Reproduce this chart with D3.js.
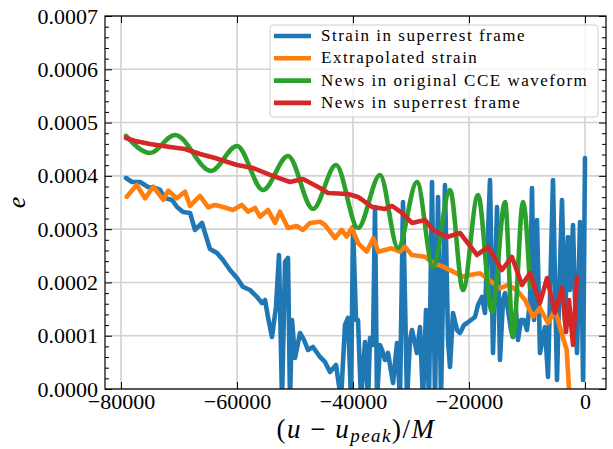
<!DOCTYPE html>
<html lang="en">
<head>
    <meta charset="UTF-8">
    <title>Eccentricity e vs (u - u_peak)/M</title>
    <script src="https://d3js.org/d3.v7.min.js"></script>
    <style>
        body { margin: 0; background: #fff; }
        text { font-family: "Liberation Serif", "Times New Roman", serif; fill: #000; }
    </style>
</head>
<body>
    <svg width="613" height="449"></svg>

    <script>
        // Values. x in units of M, e values in units of 1e-4.
        const xTicks = [-80000, -60000, -40000, -20000, 0];
        const xTickLabels = ["\u221280000", "\u221260000", "\u221240000", "\u221220000", "0"];
        const yTicks = [0, 1, 2, 3, 4, 5, 6, 7];
        const yTickLabels = ["0.0000", "0.0001", "0.0002", "0.0003", "0.0004", "0.0005", "0.0006", "0.0007"];
        const seriesNames = ["Strain in superrest frame", "Extrapolated strain",
                             "News in original CCE waveform", "News in superrest frame"];
        const seriesColors = ["#1f77b4", "#ff7f0e", "#2ca02c", "#d62728"];

        const blueX = [-79140,-78100,-76720,-75340,-74140,-73280,-72410,-71210,-70340,-69310,-68100,-67240,-66030,-65520,-64660,
            -63450,-62410,-61210,-60000,-58970,-57760,-56550,-55690,-55170,-54660,-53970,-53280,-52760,-52240,-51720,-51210,
            -50860,-50520,-50000,-49140,-48450,-47760,-46900,-45690,-44830,-43970,-42930,-42070,-41380,-40860,
            -40340,-40000,-39480,-39140,-38620,-37930,-37410,-37070,-36550,-36210,-35860,-35340,-35000,-34480,-33970,-33100,
            -32410,-31900,-31380,-30690,-30170,-29830,-28970,-28450,-27930,-27410,-26900,-26380,-25860,-25340,-24830,-24140,
            -23620,-23280,-22760,-22070,-21550,-20860,-20340,-19660,-18970,-18450,-17760,-17240,-16380,-15860,-15170,-14660,
            -14140,-13790,-13280,-12760,-12410,-11900,-11550,-11030,-10520,-10000,-9480,-9140,-8790,-8280,-7760,-6900,-6380,
            -5520,-4830,-4480,-3970,-3450,-2930,-2590,-2070,-1720,-1380,-860,-520,-340,0];
        const blueE = [3.960,3.885,3.885,3.792,3.773,3.735,3.585,3.548,3.416,3.322,3.304,2.984,3.116,2.928,2.628,
            2.553,2.421,2.234,2.083,1.915,1.858,1.727,1.614,1.670,1.351,0.976,1.539,2.515,-0.2,2.384,2.459,
            -0.2,1.295,0.582,1.051,0.920,0.732,0.788,0.601,0.507,0.319,0.450,-0.2,1.201,1.333,
            -0.2,3.041,1.295,1.295,-0.2,0.882,-0.2,0.957,0.826,3.416,-0.2,0.826,0.732,0.544,0.676,0.113,
            0.863,-0.2,3.510,-0.2,0.920,1.107,0.676,1.164,-0.2,1.483,-0.2,3.885,-0.2,3.604,-0.2,3.829,
            0.920,0.413,1.427,1.107,1.051,1.201,1.239,1.295,1.351,1.577,1.727,1.427,3.923,0.676,3.416,0.544,
            1.670,1.802,1.483,1.107,0.976,1.483,0.920,1.295,1.295,1.107,1.670,3.773,1.295,3.172,0.676,1.164,0.225,
            3.923,0.169,1.670,3.548,1.295,2.853,1.858,3.078,1.670,0.676,3.135,1.670,0.169,4.336];

        const orangeX = [-79020,-77290,-75860,-74430,-72710,-71840,-70400,-68970,-68100,-66380,-64950,-63790,-62410,-60690,
            -59190,-58100,-56900,-56030,-54660,-53450,-52590,-51210,-49710,-48620,-47410,-45690,-44830,-43100,-41950,-41090,
            -40220,-39090,-37640,-36500,-35640,-33330,-31900,-31030,-29880,-27590,-26210,-24480,-22760,-21030,-19830,-18100,
            -16950,-14660,-13280,-11780,-10340,-8970,-7760,-6380,-5170,-4020,-3160,-2590];
        const orangeE = [3.609,3.829,3.579,3.797,3.548,3.722,3.579,3.703,3.435,3.623,3.410,3.454,3.416,3.360,
            3.454,3.328,3.397,3.234,3.360,3.116,3.328,3.022,3.060,2.984,3.116,3.140,3.078,2.834,2.984,2.859,
            3.016,2.735,2.577,2.829,2.577,2.641,2.577,2.671,2.515,2.483,2.365,2.296,2.202,2.108,2.140,2.172,
            2.078,1.890,1.952,1.858,1.670,1.357,1.520,1.239,1.483,1.051,0.732,-0.3];

        const greenX = [-79140,-75000,-70690,-64480,-60000,-55520,-51210,-46900,-42930,-39140,-35340,-32240,
            -28970,-26210,-23280,-21030,-18450,-16030,-13790,-12410,-10690,-9480];
        const greenE = [4.749,4.430,4.768,4.092,4.561,3.735,4.373,3.379,4.204,3.022,4.017,2.647,
            3.885,2.290,3.735,1.858,3.641,1.445,3.510,0.976,3.510,1.896];

        const redX = [-79140,-77590,-75000,-71550,-68970,-66380,-63790,-60000,-57240,-54310,-50860,-48620,-45690,
            -44310,-40860,-39140,-36720,-34480,-33280,-31550,-29830,-27590,-26210,-23790,-21550,-18620,-16720,-14310,
            -12590,-10860,-9480,-7760,-6550,-5170,-3970,-3280,-2760,-2070,-1380];
        const redE = [4.711,4.655,4.599,4.542,4.505,4.411,4.336,4.204,4.148,4.017,3.885,3.942,3.773,
            3.679,3.660,3.604,3.416,3.379,3.435,3.304,3.116,3.172,2.984,2.853,2.928,2.515,2.665,2.234,
            2.478,1.952,2.177,1.614,2.083,1.427,1.896,1.070,1.670,0.826,2.102];

        const width = 613;
        const height = 449;
        const margin = {top: 16, right: 7, bottom: 60, left: 105};
        const x0 = margin.left, x1 = width - margin.right;
        const y0 = height - margin.bottom, y1 = margin.top;

        const svg = d3.select("svg");

        const x = d3.scaleLinear().domain([-82760, 3620]).range([x0, x1]);
        const y = d3.scaleLinear().domain([0, 7]).range([y0, y1]);

        // clip so lines stop at the frame
        svg.append("clipPath").attr("id", "plot-clip")
            .append("rect").attr("x", x0).attr("y", y1).attr("width", x1 - x0).attr("height", y0 - y1);

        // grid
        const grid = svg.append("g").attr("stroke", "#d2d2d2").attr("stroke-width", 1.6);
        grid.selectAll(".gx").data(xTicks).enter().append("line")
            .attr("x1", d => x(d)).attr("x2", d => x(d)).attr("y1", y0).attr("y2", y1);
        grid.selectAll(".gy").data(yTicks).enter().append("line")
            .attr("x1", x0).attr("x2", x1).attr("y1", d => y(d)).attr("y2", d => y(d));

        // lines
        const series = [
            {xs: blueX, es: blueE, curve: d3.curveLinear},
            {xs: orangeX, es: orangeE, curve: d3.curveLinear},
            {xs: greenX, es: greenE, curve: d3.curveMonotoneX},
            {xs: redX, es: redE, curve: d3.curveLinear}
        ];
        const plot = svg.append("g").attr("clip-path", "url(#plot-clip)");
        series.forEach((s, i) => {
            const pts = s.xs.map((v, j) => [v, s.es[j]]);
            plot.append("path")
                .datum(pts)
                .attr("fill", "none")
                .attr("stroke", seriesColors[i])
                .attr("stroke-width", 4.6)
                .attr("stroke-linejoin", "round")
                .attr("stroke-linecap", "round")
                .attr("d", d3.line().curve(s.curve).x(d => x(d[0])).y(d => y(d[1])));
        });

        // axes with inward ticks on all sides
        const minorY = d3.range(0, 7.01, 0.2).filter(v => Math.abs(v - Math.round(v)) > 0.01);
        const axBottom = svg.append("g").attr("transform", `translate(0,${y0})`)
            .call(d3.axisBottom(x).tickValues(xTicks).tickSizeInner(-7).tickSizeOuter(0).tickPadding(4)
                .tickFormat((d, i) => xTickLabels[i]));
        svg.append("g").attr("transform", `translate(0,${y1})`)
            .call(d3.axisTop(x).tickValues(xTicks).tickSizeInner(-7).tickSizeOuter(0).tickFormat(""));
        const axLeft = svg.append("g").attr("transform", `translate(${x0},0)`)
            .call(d3.axisLeft(y).tickValues(yTicks).tickSizeInner(-7).tickSizeOuter(0).tickPadding(7)
                .tickFormat((d, i) => yTickLabels[i]));
        svg.append("g").attr("transform", `translate(${x1},0)`)
            .call(d3.axisRight(y).tickValues(yTicks).tickSizeInner(-7).tickSizeOuter(0).tickFormat(""));
        svg.append("g").attr("transform", `translate(${x0},0)`)
            .call(d3.axisLeft(y).tickValues(minorY).tickSizeInner(-4).tickSizeOuter(0).tickFormat(""));
        svg.append("g").attr("transform", `translate(${x1},0)`)
            .call(d3.axisRight(y).tickValues(minorY).tickSizeInner(-4).tickSizeOuter(0).tickFormat(""));
        svg.selectAll(".domain").remove();
        svg.selectAll(".tick line").attr("stroke", "#000").attr("stroke-width", 1);
        [axBottom, axLeft].forEach(g => g.selectAll("text")
            .style("font-family", "'Liberation Serif', serif").style("font-size", "22px"));

        // frame
        svg.append("rect").attr("x", x0).attr("y", y1).attr("width", x1 - x0).attr("height", y0 - y1)
            .attr("fill", "none").attr("stroke", "#000").attr("stroke-width", 1.2);

        // axis labels
        const xl = svg.append("text").attr("x", 356).attr("y", 438)
            .attr("text-anchor", "middle").style("font-size", "27px").style("letter-spacing", "1.5px");
        xl.append("tspan").text("(");
        xl.append("tspan").style("font-style", "italic").text("u");
        xl.append("tspan").text(" \u2212 ");
        xl.append("tspan").style("font-style", "italic").text("u");
        xl.append("tspan").style("font-style", "italic").style("font-size", "19px").attr("dy", 4).text("peak");
        xl.append("tspan").attr("dy", -4).text(")/");
        xl.append("tspan").style("font-style", "italic").text("M");

        svg.append("text").attr("transform", `translate(25,${(y0 + y1) / 2}) rotate(-90)`)
            .attr("text-anchor", "middle").style("font-size", "26px").style("font-style", "italic").text("e");

        // legend
        const lg = svg.append("g").attr("transform", "translate(270,25)");
        lg.append("rect").attr("width", 328).attr("height", 92).attr("rx", 3)
            .attr("fill", "#fff").attr("fill-opacity", 0.8).attr("stroke", "#cccccc").attr("stroke-width", 1);
        seriesNames.forEach((name, i) => {
            const yy = 11 + i * 22.3;
            lg.append("line").attr("x1", 4).attr("x2", 41).attr("y1", yy).attr("y2", yy)
                .attr("stroke", seriesColors[i]).attr("stroke-width", 4.6);
            lg.append("text").attr("x", 51).attr("y", yy + 5).style("font-size", "17px")
                .style("letter-spacing", "1.5px").text(name);
        });
    </script>
</body>
</html>
